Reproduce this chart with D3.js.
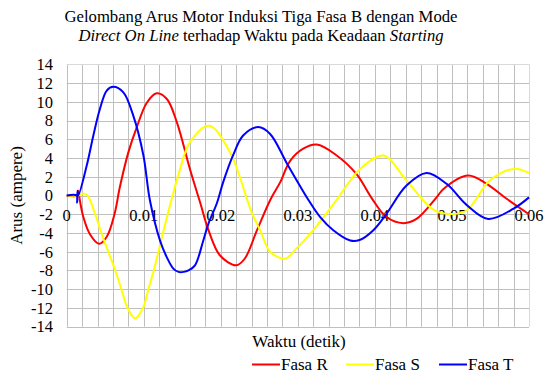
<!DOCTYPE html>
<html>
<head>
<meta charset="utf-8">
<script src="https://cdn.jsdelivr.net/npm/d3@7"></script>
<style>
  body { margin: 0; background: #fff; }
</style>
</head>
<body>
<div id="chart"></div>
<script>
// waktu (detik), arus (ampere)
const fasaR = [
  [0, 0], [0.0014, 0], [0.0015, 0.5], [0.0016, 0], [0.00216, -2.3], [0.003, -4.1], [0.0042, -5.15],
  [0.0052, -4.4], [0.0062, -2.0], [0.0069, 0.9], [0.008, 4.6], [0.0091, 7.3], [0.0104, 9.9],
  [0.01168, 10.9], [0.013, 10.3], [0.0143, 7.8], [0.016, 2.8], [0.0173, -0.7], [0.0184, -3.7],
  [0.0199, -6.4], [0.022, -7.45], [0.0231, -6.75], [0.0247, -3.7], [0.0264, -0.5], [0.0277, 1.4],
  [0.029, 3.7], [0.0307, 5.0], [0.03245, 5.43], [0.035, 4.3], [0.0376, 2.3], [0.0396, -0.3],
  [0.0415, -2.3], [0.0437, -2.95], [0.0454, -2.5], [0.048, -0.2], [0.0489, 0.7], [0.0521, 2.13],
  [0.0545, 1.25], [0.0571, -0.35], [0.06, -2.0]
];
const fasaS = [
  [0, 0], [0.0014, 0], [0.0022, 0.2], [0.0027, 0], [0.0037, -2], [0.0045, -4], [0.0054, -6],
  [0.0063, -8], [0.0071, -10], [0.0079, -12], [0.00887, -13.1], [0.0099, -12], [0.0106, -10],
  [0.0113, -8], [0.0119, -6], [0.0125, -4], [0.0131, -2], [0.01375, 0], [0.0146, 2.5],
  [0.016, 5.7], [0.0185, 7.45], [0.0212, 4.6], [0.024, -1.8], [0.0251, -3.7], [0.0264, -6.0],
  [0.02834, -6.75], [0.0296, -5.85], [0.032, -3.7], [0.035, -0.5], [0.0368, 1.6], [0.0381, 2.84],
  [0.0411, 4.26], [0.0441, 1.6], [0.0474, -1.4], [0.0493, -1.95], [0.0519, -1.6], [0.0549, 1.6],
  [0.058, 2.84], [0.06, 2.4]
];
const fasaT = [
  [0, 0], [0.0013, 0], [0.00135, -0.75], [0.0014, 0.5], [0.0015, 0], [0.0026, 3.2], [0.00346, 6.4],
  [0.0043, 9.2], [0.0052, 11.2], [0.00605, 11.6], [0.00735, 11.0], [0.00865, 8.5], [0.00995, 4.3],
  [0.0108, -0.5], [0.01211, -4.8], [0.01298, -6.57], [0.01384, -7.8], [0.0145, -8.15],
  [0.0152, -8.15], [0.0158, -8.0], [0.01665, -7.45], [0.01773, -4.8], [0.0184, -3.0],
  [0.0195, -0.8], [0.0203, 1.4], [0.0216, 4.3], [0.0229, 6.4], [0.02487, 7.3], [0.0264, 6.57],
  [0.0286, 3.4], [0.0314, -0.5], [0.0329, -2.3], [0.0346, -3.7], [0.0368, -4.8], [0.038, -4.75],
  [0.0398, -3.7], [0.0415, -1.95], [0.0441, 1.06], [0.0467, 2.4], [0.0493, 1.25], [0.0519, -1.0],
  [0.0547, -2.5], [0.058, -1.4], [0.06, -0.2]
];
const seriesNames = ["Fasa R", "Fasa S", "Fasa T"];
const seriesColors = ["#ff0000", "#ffff00", "#0000ff"];
const xTicks = [0, 0.01, 0.02, 0.03, 0.04, 0.05, 0.06];
const yTicks = [-14, -12, -10, -8, -6, -4, -2, 0, 2, 4, 6, 8, 10, 12, 14];

const W = 546, H = 376;
const pLeft = 66.7, pRight = 529, pTop = 64.3, pBottom = 326.7;
const serif = "'Liberation Serif', 'Times New Roman', Times, serif";

const svg = d3.select("#chart").append("svg")
  .attr("width", W)
  .attr("height", H)
  .attr("font-family", serif)
  .style("font-family", serif);

const x = d3.scaleLinear().domain([0, 0.06]).range([pLeft, pRight]);
const y = d3.scaleLinear().domain([-14, 14]).range([pBottom, pTop]);

// grid
const grid = svg.append("g").attr("stroke-width", 1);
grid.selectAll("line.v")
  .data(d3.range(0, 31))
  .join("line")
    .attr("class", "v")
    .attr("x1", i => Math.round(x(i * 0.002)) + 0.5)
    .attr("x2", i => Math.round(x(i * 0.002)) + 0.5)
    .attr("y1", pTop)
    .attr("y2", pBottom)
    .attr("stroke", i => (i === 30 ? "#d9d9d9" : "#bfbfbf"));
grid.selectAll("line.h")
  .data(yTicks)
  .join("line")
    .attr("class", "h")
    .attr("x1", pLeft)
    .attr("x2", pRight)
    .attr("y1", d => Math.round(y(d)) + 0.5)
    .attr("y2", d => Math.round(y(d)) + 0.5)
    .attr("stroke", d => (d === 14 ? "#d9d9d9" : "#bfbfbf"));

function txt(sel, size) {
  return sel.style("font-family", serif).style("font-size", (size || 17) + "px").attr("fill", "#000");
}

// y labels
svg.append("g").selectAll("text")
  .data(yTicks)
  .join("text")
    .attr("x", 53)
    .attr("y", d => y(d))
    .attr("dy", "0.35em")
    .attr("text-anchor", "end")
    .call(txt, 16.5)
    .text(d => d);

// x labels (below zero line)
svg.append("g").selectAll("text")
  .data(xTicks)
  .join("text")
    .attr("x", d => x(d))
    .attr("y", 221)
    .attr("text-anchor", "middle")
    .call(txt, 16.5)
    .text(d => d);

// lines
const line = d3.line()
  .x(d => x(d[0]))
  .y(d => y(d[1]))
  .curve(d3.curveCatmullRom.alpha(0.5));

[fasaR, fasaS, fasaT].forEach((s, i) => {
  svg.append("path")
    .datum(s)
    .attr("fill", "none")
    .attr("stroke", seriesColors[i])
    .attr("stroke-width", 2)
    .attr("stroke-linejoin", "round")
    .attr("d", line);
});

// titles
const title = svg.append("text")
  .attr("x", 261)
  .attr("text-anchor", "middle")
  .call(txt, 16.7);
title.append("tspan").attr("x", 261).attr("y", 22)
  .text("Gelombang Arus Motor Induksi Tiga Fasa B dengan Mode");
const t2 = title.append("tspan").attr("x", 261).attr("y", 41);
t2.append("tspan").style("font-style", "italic").text("Direct On Line");
t2.append("tspan").text(" terhadap Waktu pada Keadaan ");
t2.append("tspan").style("font-style", "italic").text("Starting");

svg.append("text")
  .attr("transform", `translate(22,${(pTop + pBottom) / 2}) rotate(-90)`)
  .attr("text-anchor", "middle")
  .call(txt, 17)
  .text("Arus (ampere)");

svg.append("text")
  .attr("x", 299)
  .attr("y", 347)
  .attr("text-anchor", "middle")
  .call(txt, 17)
  .text("Waktu (detik)");

// legend
const legendX = [252, 346, 439];
const leg = svg.append("g");
seriesNames.forEach((n, i) => {
  leg.append("line")
    .attr("x1", legendX[i]).attr("x2", legendX[i] + 28)
    .attr("y1", 364.5).attr("y2", 364.5)
    .attr("stroke", seriesColors[i])
    .attr("stroke-width", 2);
  leg.append("text")
    .attr("x", legendX[i] + 29)
    .attr("y", 370)
    .call(txt, 17)
    .text(n);
});
</script>
</body>
</html>
